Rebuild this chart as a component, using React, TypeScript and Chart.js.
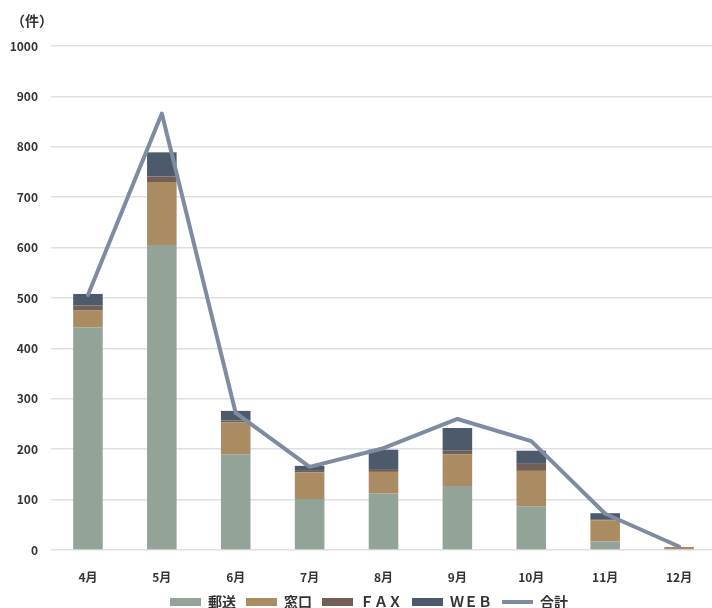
import React, { useEffect, useRef } from "react";
import { Chart, registerables } from "chart.js";

Chart.register(...registerables);

const months = ["4月", "5月", "6月", "7月", "8月", "9月", "10月", "11月", "12月"];
const yubin = [442, 605, 190, 101, 112, 127, 87, 17, 0];
const madoguchi = [33, 125, 63, 53, 43, 63, 70, 42, 6];
const fax = [10, 11, 4, 3, 4, 7, 14, 1, 0];
const web = [23, 48, 19, 10, 40, 45, 26, 13, 0];
const total = [506, 866, 272, 165, 202, 260, 216, 72, 7];

const FONT = "'Noto Sans CJK JP', 'Noto Sans', sans-serif";

const legendShift = {
  id: "legendShift",
  afterLayout(chart: any) {
    const lg = chart.legend;
    if (lg) {
      lg.left += 11;
      lg.right += 11;
    }
  },
};

export default function App() {
  const ref = useRef<HTMLCanvasElement | null>(null);

  useEffect(() => {
    if (!ref.current) return;
    const chart = new Chart(ref.current, {
      type: "bar",
      data: {
        labels: months,
        datasets: [
          { label: "郵送", data: yubin, backgroundColor: "#93a397", pointStyle: "rect", order: 1 },
          { label: "窓口", data: madoguchi, backgroundColor: "#ab8b62", pointStyle: "rect", order: 1 },
          { label: "ＦＡＸ", data: fax, backgroundColor: "#725f55", pointStyle: "rect", order: 1 },
          { label: "ＷＥＢ", data: web, backgroundColor: "#4c5a6b", pointStyle: "rect", order: 1 },
          {
            type: "line",
            label: "合計",
            data: total,
            borderColor: "#7e8ba0",
            backgroundColor: "#7e8ba0",
            borderWidth: 4,
            borderCapStyle: "round",
            borderJoinStyle: "round",
            pointRadius: 0,
            pointStyle: "line",
            tension: 0,
            stack: "total",
            order: 0,
          } as any,
        ],
      },
      plugins: [legendShift],
      options: {
        responsive: false,
        animation: false,
        layout: { padding: { top: 46, left: 0, right: 0, bottom: 0 } },
        datasets: { bar: { categoryPercentage: 1, barPercentage: 0.4 } } as any,
        plugins: {
          title: { display: false },
          tooltip: { enabled: false },
          legend: {
            position: "bottom",
            labels: {
              usePointStyle: true,
              pointStyleWidth: 31,
              boxHeight: 8,
              padding: 10,
              color: "#333",
              font: { family: FONT, size: 14, weight: "bold" },
              sort: (a: any, b: any) => a.datasetIndex - b.datasetIndex,
            },
          },
        },
        scales: {
          x: {
            stacked: true,
            grid: { display: false },
            border: { display: false },
            ticks: { color: "#333", padding: 12, font: { family: FONT, size: 12, weight: "bold" } },
            afterFit: (s: any) => { s.height = 35; },
          },
          y: {
            stacked: true,
            min: 0,
            max: 1000,
            grid: { color: "#e0dfe7", lineWidth: 1.5, drawTicks: false },
            border: { display: false },
            ticks: {
              stepSize: 100,
              color: "#333",
              padding: 13,
              font: { family: FONT, size: 12, weight: "bold" },
              callback: (v: any) => String(v),
            },
            afterFit: (s: any) => { s.width = 51; },
          },
        },
      },
    } as any);
    return () => chart.destroy();
  }, []);

  return (
    <div style={{ position: "absolute", left: 0, top: 0, width: 712, height: 608, overflow: "hidden", background: "#fff" }}>
      <div style={{ position: "absolute", left: 11, top: 11, fontFamily: FONT, fontWeight: "bold", fontSize: 14, color: "#333", lineHeight: "18px" }}>（件）</div>
      <canvas ref={ref} width={716} height={619} style={{ display: "block" }} />
    </div>
  );
}
